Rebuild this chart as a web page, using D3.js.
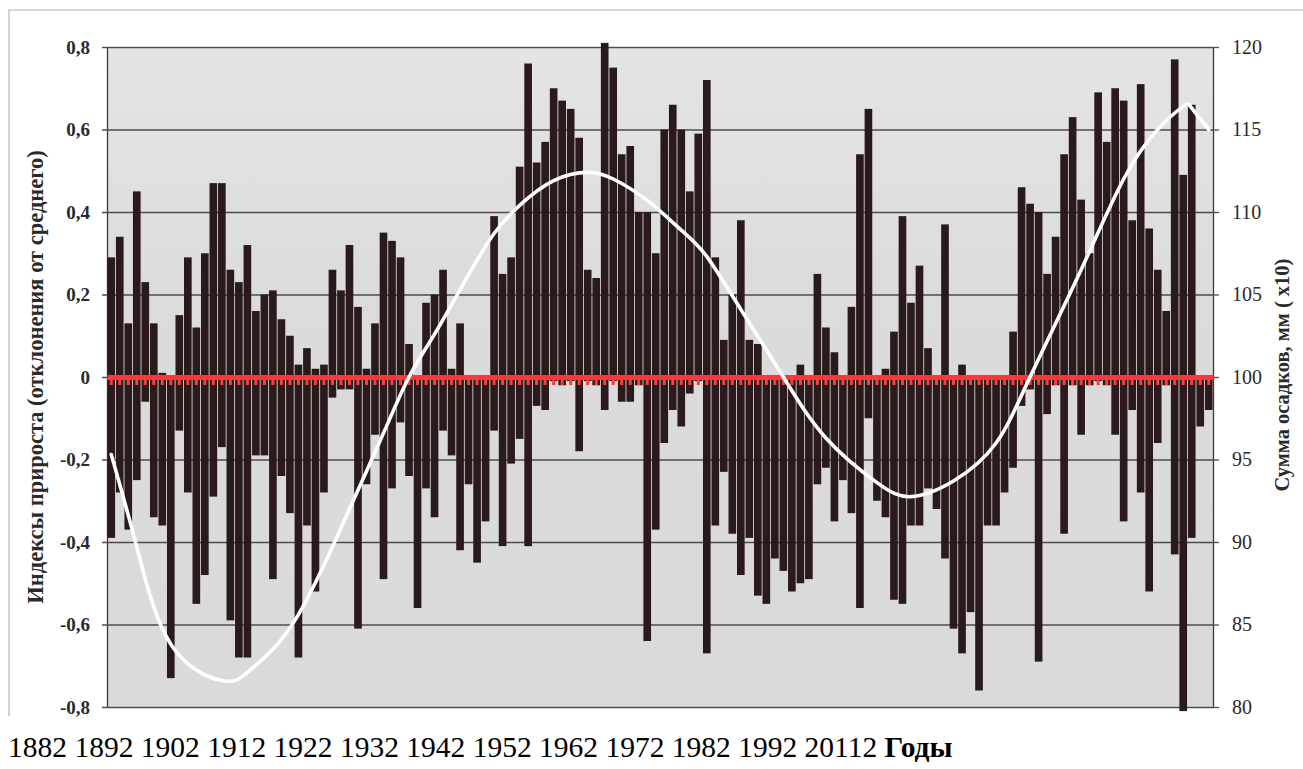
<!DOCTYPE html>
<html>
<head>
<meta charset="utf-8">
<script src="https://cdn.jsdelivr.net/npm/d3@7"></script>
<style>
  html, body { margin: 0; padding: 0; background: #fff; }
  svg { display: block; }
  svg text { font-family: "Liberation Serif", "Times New Roman", serif; }
</style>
</head>
<body>
<svg id="chart" width="1303" height="769"></svg>
<script>
// Years of the tree-ring record
const years = d3.range(1882, 2012);

// Growth index, upper (positive) deviations per year
const growthUp = [
  0.29, 0.34, 0.13, 0.45, 0.23, 0.13, 0.01, 0.00, 0.15, 0.29,
  0.12, 0.30, 0.47, 0.47, 0.26, 0.23, 0.32, 0.16, 0.20, 0.21,
  0.14, 0.10, 0.03, 0.07, 0.02, 0.03, 0.26, 0.21, 0.32, 0.17,
  0.02, 0.13, 0.35, 0.33, 0.29, 0.08, 0.00, 0.18, 0.20, 0.26,
  0.02, 0.13, 0.00, 0.00, 0.00, 0.39, 0.25, 0.29, 0.51, 0.76,
  0.52, 0.57, 0.70, 0.67, 0.65, 0.58, 0.26, 0.24, 0.81, 0.75,
  0.54, 0.56, 0.40, 0.40, 0.30, 0.60, 0.66, 0.60, 0.45, 0.59,
  0.72, 0.29, 0.09, 0.20, 0.38, 0.09, 0.08, 0.00, 0.00, 0.00,
  0.00, 0.03, 0.00, 0.25, 0.12, 0.06, 0.00, 0.17, 0.54, 0.65,
  0.00, 0.02, 0.11, 0.39, 0.18, 0.27, 0.07, 0.00, 0.37, 0.00,
  0.03, 0.00, 0.00, 0.00, 0.00, 0.00, 0.11, 0.46, 0.42, 0.40,
  0.25, 0.34, 0.54, 0.63, 0.43, 0.30, 0.69, 0.57, 0.70, 0.67,
  0.38, 0.71, 0.36, 0.26, 0.16, 0.77, 0.49, 0.66, 0.00, 0.00
];

// Growth index, lower (negative) deviations per year
const growthDown = [
  -0.39, -0.28, -0.37, -0.25, -0.06, -0.34, -0.36, -0.73, -0.13, -0.28,
  -0.55, -0.48, -0.29, -0.17, -0.59, -0.68, -0.68, -0.19, -0.19, -0.49,
  -0.24, -0.33, -0.68, -0.36, -0.52, -0.28, -0.05, -0.03, -0.03, -0.61,
  -0.26, -0.14, -0.49, -0.27, -0.11, -0.24, -0.56, -0.27, -0.34, -0.13,
  -0.19, -0.42, -0.26, -0.45, -0.35, -0.13, -0.41, -0.21, -0.15, -0.41,
  -0.07, -0.08, -0.01, -0.02, -0.01, -0.18, -0.01, -0.02, -0.08, -0.01,
  -0.06, -0.06, -0.02, -0.64, -0.37, -0.16, -0.08, -0.12, -0.04, -0.01,
  -0.67, -0.36, -0.23, -0.38, -0.48, -0.39, -0.53, -0.55, -0.44, -0.47,
  -0.52, -0.50, -0.49, -0.26, -0.22, -0.35, -0.25, -0.33, -0.56, -0.10,
  -0.30, -0.34, -0.54, -0.55, -0.36, -0.36, -0.27, -0.32, -0.44, -0.61,
  -0.67, -0.57, -0.76, -0.36, -0.36, -0.28, -0.22, -0.07, -0.03, -0.69,
  -0.09, -0.02, -0.38, -0.02, -0.14, -0.02, -0.01, -0.02, -0.14, -0.35,
  -0.08, -0.28, -0.52, -0.16, -0.02, -0.43, -0.81, -0.39, -0.12, -0.08
];

// Precipitation trend (sum, mm x10)
const rainYears  = [1882, 1885, 1889, 1895, 1898, 1901, 1904, 1907, 1910, 1914, 1917, 1920,
                    1924, 1927, 1930, 1934, 1938, 1941, 1945, 1949, 1952, 1956, 1961, 1966,
                    1972, 1976, 1981, 1986, 1990, 1996, 2001, 2005, 2008, 2009, 2011];
const rainValues = [95.3, 89.7, 83.8, 81.6, 82.1, 83.5, 85.6, 88.6, 92.0, 96.6, 100.0, 102.6,
                    106.2, 108.7, 110.4, 111.9, 112.4, 112.0, 110.7, 108.9, 107.3, 104.1, 100.0, 96.3,
                    93.6, 92.75, 93.7, 96.0, 100.0, 106.5, 112.0, 115.0, 116.4, 116.3, 115.0];

// Axis ticks and labels
const indexTicks = [0.8, 0.6, 0.4, 0.2, 0, -0.2, -0.4, -0.6, -0.8];
const rainTicks  = [80, 85, 90, 95, 100, 105, 110, 115, 120];
const yearLabels = ["1882", "1892", "1902", "1912", "1922", "1932", "1942", "1952",
                    "1962", "1972", "1982", "1992", "20112"];
const yearAxisTitle = "Годы";
const leftTitle  = "Индексы прироста (отклонения от среднего)";
const rightTitle = "Сумма осадков, мм ( x10)";

const serif = '"Liberation Serif", "Times New Roman", serif';
const plot = { left: 107, right: 1213, top: 47, bottom: 707 };
const svg = d3.select("#chart");

const ru = d3.formatLocale({ decimal: ",", thousands: "\u00a0", grouping: [3], currency: ["", ""], minus: "-" });
const fmtIndex = v => Math.abs(v) < 1e-9 ? "0" : ru.format(".1f")(v);

const x = d3.scaleBand().domain(years).range([plot.left, plot.right]).paddingInner(0.1).paddingOuter(0.05);
const y = d3.scaleLinear().domain([-0.8, 0.8]).range([plot.bottom, plot.top]);
const yR = d3.scaleLinear().domain([80, 120]).range([plot.bottom, plot.top]);
const xMid = yr => x(yr) + x.bandwidth() / 2;

// Outer chart frame (top and left edges)
svg.append("path")
  .attr("d", `M9,716 V10 H1303`)
  .attr("fill", "none")
  .attr("stroke", "#b5b5b5")
  .attr("stroke-width", 1.2);

// Plot background
const defs = svg.append("defs");
const grad = defs.append("linearGradient").attr("id", "bg").attr("x1", 0).attr("y1", 0).attr("x2", 0).attr("y2", 1);
grad.append("stop").attr("offset", "0%").attr("stop-color", "#e4e4e4");
grad.append("stop").attr("offset", "40%").attr("stop-color", "#dbdbdb");
grad.append("stop").attr("offset", "100%").attr("stop-color", "#dadada");
svg.append("rect")
  .attr("x", plot.left).attr("y", plot.top)
  .attr("width", plot.right - plot.left).attr("height", plot.bottom - plot.top)
  .attr("fill", "url(#bg)");

// Left axis with gridlines
const leftAxis = svg.append("g")
  .attr("transform", `translate(${plot.left},0)`)
  .call(d3.axisLeft(y).tickValues(indexTicks).tickFormat(fmtIndex)
        .tickSizeInner(-(plot.right - plot.left)).tickSizeOuter(0).tickPadding(17));
leftAxis.attr("font-family", serif);
leftAxis.selectAll(".tick line").attr("x1", -5).attr("stroke", "#4d4d4d").attr("stroke-width", 1.3);
leftAxis.select(".domain").attr("stroke", "#3a3a3a").attr("stroke-width", 1.3);
leftAxis.selectAll(".tick text")
  .attr("font-family", serif)
  .style("font-family", serif)
  .style("font-weight", "bold")
  .style("font-size", "19px")
  .attr("fill", "#2a2a2a");

// Bars: positive and negative deviations
const bars = svg.append("g");
bars.selectAll("rect.up")
  .data(years.map((yr, i) => ({ yr, v: growthUp[i] })))
  .join("rect")
  .attr("class", "up")
  .attr("x", d => x(d.yr))
  .attr("width", x.bandwidth())
  .attr("y", d => y(d.v))
  .attr("height", d => y(0) - y(d.v))
  .attr("fill", "#2b1a1b");
bars.selectAll("rect.down")
  .data(years.map((yr, i) => ({ yr, v: growthDown[i] })))
  .join("rect")
  .attr("class", "down")
  .attr("x", d => x(d.yr))
  .attr("width", x.bandwidth())
  .attr("y", y(0))
  .attr("height", d => y(d.v) - y(0))
  .attr("fill", "#2b1a1b");

// Right axis (precipitation)
const rightAxis = svg.append("g")
  .attr("transform", `translate(${plot.right},0)`)
  .call(d3.axisRight(yR).tickValues(rainTicks).tickSize(6).tickSizeOuter(0).tickPadding(13));
rightAxis.attr("font-family", serif);
rightAxis.selectAll(".tick line").attr("stroke", "#4d4d4d").attr("stroke-width", 1.3);
rightAxis.select(".domain").attr("stroke", "#3a3a3a").attr("stroke-width", 1.3);
rightAxis.selectAll(".tick text")
  .attr("font-family", serif)
  .style("font-family", serif)
  .style("font-size", "20px")
  .attr("fill", "#2a2a2a");

// Red zero axis with year ticks
const zeroAxis = svg.append("g")
  .attr("transform", `translate(0,${y(0)})`)
  .call(d3.axisBottom(x).tickSize(8).tickSizeOuter(0).tickFormat(""));
zeroAxis.select(".domain").attr("stroke", "#ff3434").attr("stroke-width", 5);
zeroAxis.selectAll(".tick line").attr("stroke", "#ff3a3a").attr("stroke-width", 3);

// Precipitation trend line
const rainLine = d3.line()
  .x((d, i) => xMid(rainYears[i]))
  .y(d => yR(d))
  .curve(d3.curveNatural);
svg.append("path")
  .datum(rainValues)
  .attr("d", rainLine)
  .attr("fill", "none")
  .attr("stroke", "#ffffff")
  .attr("stroke-width", 3.6)
  .attr("stroke-linecap", "round");

// Axis titles
svg.append("text")
  .attr("transform", `translate(43,${(plot.top + plot.bottom) / 2}) rotate(-90)`)
  .attr("text-anchor", "middle")
  .style("font-weight", "bold")
  .style("font-size", "22.5px")
  .attr("fill", "#2a2a2a")
  .text(leftTitle);
svg.append("text")
  .attr("transform", `translate(1289,375) rotate(-90)`)
  .attr("text-anchor", "middle")
  .style("font-weight", "bold")
  .style("font-size", "20.5px")
  .attr("fill", "#2a2a2a")
  .text(rightTitle);

// Year labels below the chart
const bottom = svg.append("text")
  .attr("x", 8)
  .attr("y", 757)
  .style("font-size", "29.5px")
  .attr("fill", "#000");
bottom.append("tspan").text(yearLabels.join(" ") + " ");
bottom.append("tspan").style("font-weight", "bold").text(yearAxisTitle);
</script>
</body>
</html>
